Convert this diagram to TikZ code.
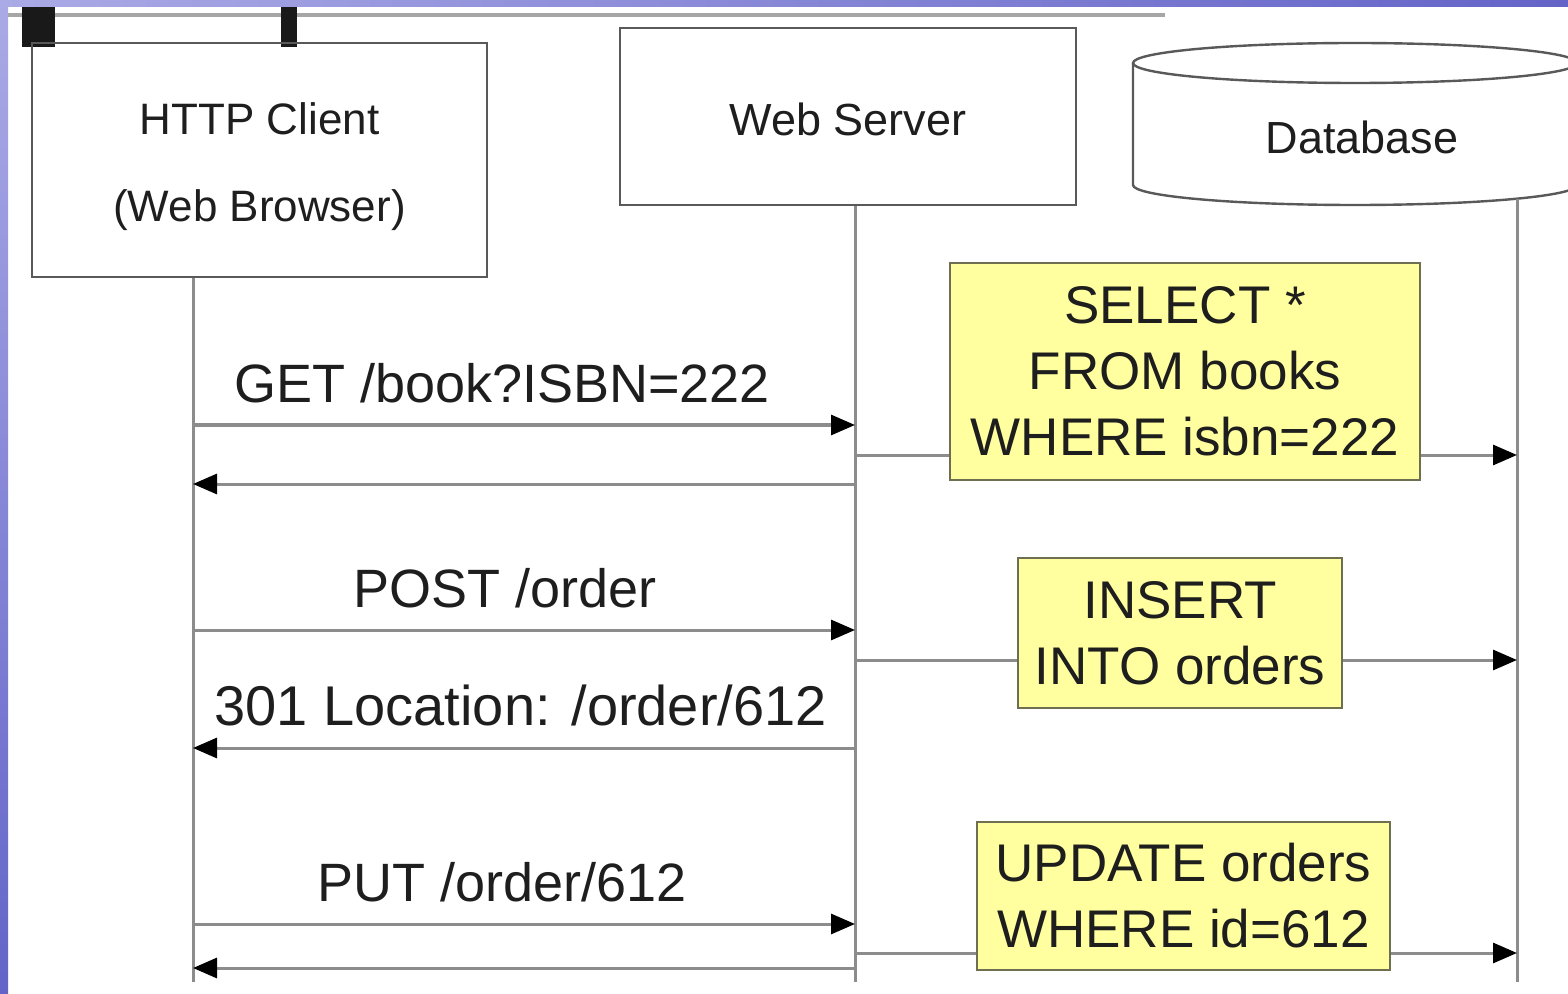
\documentclass[tikz,border=0pt]{standalone}
\usepackage{fontspec}
\setmainfont{Liberation Sans}
\usetikzlibrary{arrows.meta,positioning}
\definecolor{slide}{RGB}{100,100,200}
\definecolor{slidelight}{RGB}{170,170,230}
\definecolor{note}{RGB}{255,255,160}
\definecolor{noteline}{RGB}{110,110,80}
\definecolor{ink}{RGB}{30,30,30}

\begin{document}
\begin{tikzpicture}[x=0.5pt, y=-0.5pt,
    box/.style={draw=black!65, line width=1.2pt, text=ink, align=center, inner sep=0pt},
    sql/.style={draw=noteline, fill=note, line width=1.2pt, text=ink, align=center, inner sep=0pt,
        font=\fontsize{26.5}{33}\selectfont},
    life/.style={draw=black!45, line width=1.5pt},
    msg/.style={life, -{Triangle[length=12pt, width=10pt, black]}},
    lbl/.style={text=ink, font=\fontsize{27}{32}\selectfont, anchor=base, yshift=11.5pt, inner sep=0pt}]
    \useasboundingbox (0,0) rectangle (1568,994);
    \fill[white] (0,0) rectangle (1568,994);

    \draw[black!35, line width=2pt] (8,15) -- (1165,15);
    \fill[black!90] (22,0) rectangle (55,47);
    \fill[black!90] (281,0) rectangle (297,47);

    \node[box, minimum width=227.5pt, minimum height=117pt, text height=66pt, font=\fontsize{22}{43.5}\selectfont] (client) at (259.5,160) {HTTP Client\\(Web Browser)};
    \node[box, minimum width=228pt, minimum height=88.5pt, text height=19pt, font=\fontsize{22.5}{27}\selectfont] (server) at (848,116.5) {Web Server};
    \draw[box] (1133,63) -- (1133,185) arc[start angle=180, end angle=0, x radius=222, y radius=20] -- (1577,63);
    \draw[box] (1355,63) ellipse [x radius=222, y radius=20];
    \node[text=ink, font=\fontsize{22.5}{27}\selectfont] (db) at (1362,137) {Database};

    \coordinate (cEnd) at (193,982);
    \coordinate (sEnd) at (855,982);
    \coordinate (dTop) at (1517,199);
    \coordinate (dEnd) at (1517,982);
    \draw[life] (client.south -| cEnd) -- (cEnd);
    \draw[life] (server.south -| sEnd) -- (sEnd);
    \draw[life] (dTop) -- (dEnd);

    \node[sql, minimum width=235pt, minimum height=108.5pt] (q1) at (1185,371.5) {SELECT *\\FROM books\\WHERE isbn=222};
    \node[sql, minimum width=162pt, minimum height=75pt] (q2) at (1180,633) {INSERT\\INTO orders};
    \node[sql, minimum width=206.5pt, minimum height=74pt] (q3) at (1183.5,896) {UPDATE orders\\WHERE id=612};

    \coordinate (get) at (193,425);
    \coordinate (ret1) at (193,484);
    \coordinate (sel) at (855,455);
    \coordinate (post) at (193,630);
    \coordinate (ins) at (855,660);
    \coordinate (ret2) at (193,748);
    \coordinate (put) at (193,924);
    \coordinate (upd) at (855,953);
    \coordinate (ret3) at (193,968);

    \draw[msg] (get) -- node[lbl, pos=0.467] {GET /book?ISBN=222} (get -| sEnd);
    \draw[msg] (ret1 -| sEnd) -- (ret1);
    \draw[life] (sel) -- (sel -| q1.west);
    \draw[msg] (sel -| q1.east) -- (sel -| dEnd);

    \draw[msg] (post) -- node[lbl, pos=0.472] {POST /order} (post -| sEnd);
    \draw[life] (ins) -- (ins -| q2.west);
    \draw[msg] (ins -| q2.east) -- (ins -| dEnd);
    \draw[msg] (ret2 -| sEnd) -- node[lbl, pos=0.505, font=\fontsize{28}{32}\selectfont] {301 Location: /order/612} (ret2);

    \draw[msg] (put) -- node[lbl, pos=0.467] {PUT /order/612} (put -| sEnd);
    \draw[life] (upd) -- (upd -| q3.west);
    \draw[msg] (upd -| q3.east) -- (upd -| dEnd);
    \draw[msg] (ret3 -| sEnd) -- (ret3);

    \shade[left color=slidelight, right color=slide] (0,0) rectangle (1568,7);
    \shade[top color=slidelight, bottom color=slide] (0,0) rectangle (8,994);
\end{tikzpicture}
\end{document}
